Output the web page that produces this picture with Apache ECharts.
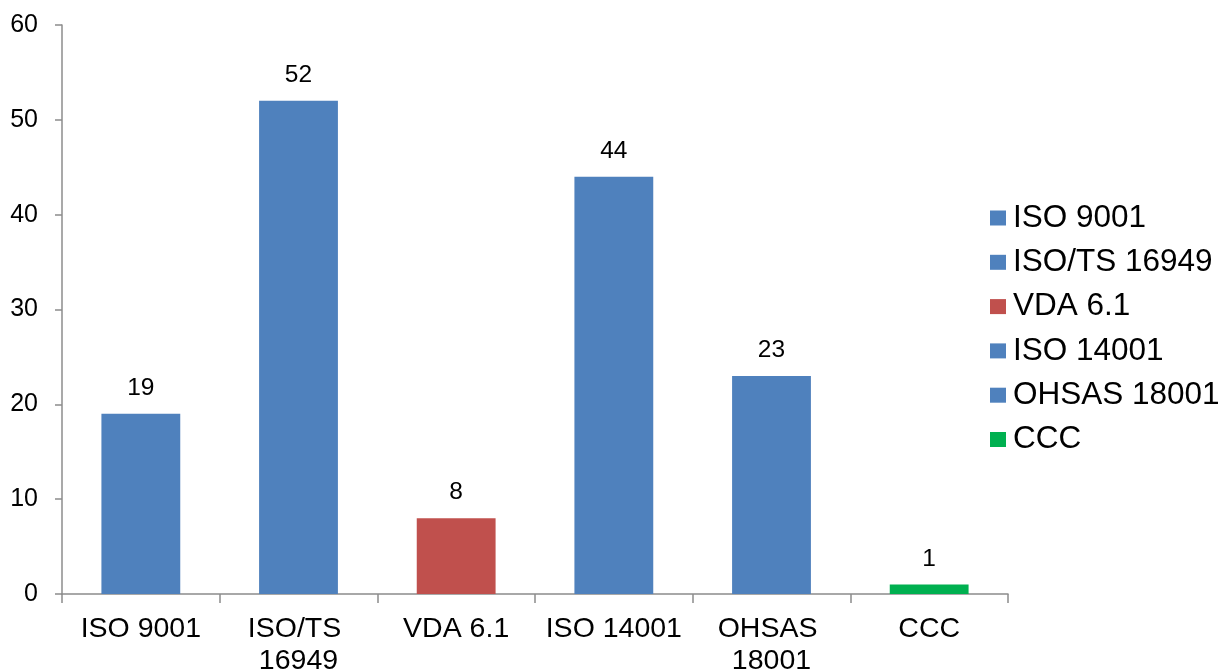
<!DOCTYPE html>
<html>
<head>
<meta charset="utf-8">
<script src="https://cdn.jsdelivr.net/npm/echarts@6/dist/echarts.min.js"></script>
<style>
  html, body { margin: 0; padding: 0; background: #fff; }
  #chart { width: 1222px; height: 671px; }
</style>
</head>
<body>
<div id="chart"></div>
<script>
// Certificates held, by standard
const categories = ['ISO 9001', 'ISO/TS 16949', 'VDA 6.1', 'ISO 14001', 'OHSAS 18001', 'CCC'];
const counts = [19, 52, 8, 44, 23, 1];
const colors = ['#4F81BD', '#4F81BD', '#C0504D', '#4F81BD', '#4F81BD', '#00B050'];
const yTicks = [0, 10, 20, 30, 40, 50, 60];

const FONT = 'Liberation Sans, Arial, sans-serif';
const AXIS_COLOR = '#8C8C8C';

// One series per standard so each gets its own legend entry; stacking keeps
// every bar centred in its own category slot.
const series = categories.map((name, i) => ({
  name: name,
  type: 'bar',
  stack: 'all',
  barCategoryGap: '50%',
  itemStyle: { color: colors[i] },
  label: {
    show: true,
    position: 'top',
    distance: 13,
    color: '#000',
    fontFamily: FONT,
    fontSize: 24.5
  },
  data: categories.map((c, j) => (j === i ? counts[i] : null))
}));

const chart = echarts.init(document.getElementById('chart'));
chart.setOption({
  animation: false,
  backgroundColor: '#fff',
  grid: {
    left: 62, right: 214, top: 25, bottom: 77,
    containLabel: false,
    outerBoundsMode: 'none'
  },
  legend: {
    orient: 'vertical',
    left: 990,
    top: 202,
    padding: 0,
    itemWidth: 16,
    itemHeight: 15,
    itemGap: 12.3,
    icon: 'rect',
    data: categories,
    textStyle: {
      color: '#000',
      fontFamily: FONT,
      fontSize: 31.5,
      lineHeight: 31,
      padding: [0, 0, 0, 2]
    }
  },
  xAxis: {
    type: 'category',
    data: categories,
    axisLine: { lineStyle: { color: AXIS_COLOR, width: 1.5 } },
    axisTick: { show: true, length: 9, alignWithLabel: false, lineStyle: { color: AXIS_COLOR, width: 1.5 } },
    axisLabel: {
      color: '#000',
      fontFamily: FONT,
      fontSize: 28.5,
      lineHeight: 32,
      margin: 19,
      width: 150,
      overflow: 'break',
      interval: 0
    },
    splitLine: { show: false }
  },
  yAxis: {
    type: 'value',
    min: yTicks[0],
    max: yTicks[yTicks.length - 1],
    interval: yTicks[1] - yTicks[0],
    axisLine: { show: true, lineStyle: { color: AXIS_COLOR, width: 1.5 } },
    axisTick: { show: true, length: 7, lineStyle: { color: AXIS_COLOR, width: 1.5 } },
    axisLabel: {
      color: '#000',
      fontFamily: FONT,
      fontSize: 25,
      margin: 24
    },
    splitLine: { show: false }
  },
  series: series
});
</script>
</body>
</html>
